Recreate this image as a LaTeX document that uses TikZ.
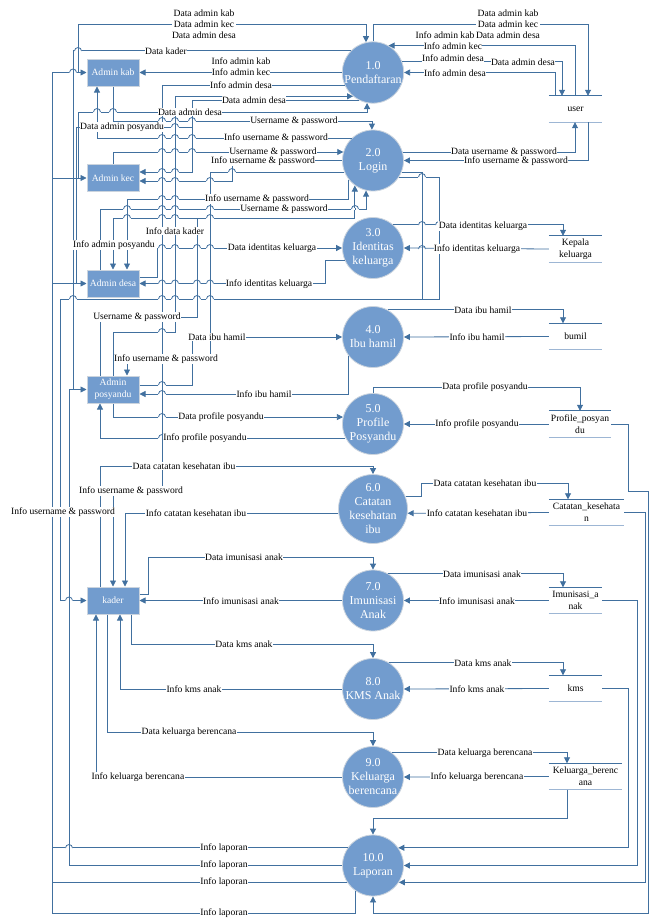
\documentclass[tikz,border=0pt]{standalone}
\usepackage{fontspec}
\setmainfont{Liberation Serif}
\usetikzlibrary{arrows.meta}
\definecolor{fillb}{HTML}{729CCE}
\definecolor{lineb}{HTML}{41709F}
\definecolor{lightb}{HTML}{9DB6D4}
\definecolor{edgeg}{HTML}{CBD4DE}
\newcommand\hopover[2]{%
  \fill[white] (#1-3.7,#2-1) rectangle (#1+3.7,#2+1);
  \draw[wire] (#1,#2-1.3) -- (#1,#2+1.3);
  \draw[wire] (#1-3.5,#2) arc[start angle=180,end angle=360,radius=3.5];}
\begin{document}
\begin{tikzpicture}[x=1pt,y=-1pt,
  proc/.style={circle, fill=fillb, draw=edgeg, line width=0.8pt, minimum size=61pt, inner sep=0pt, align=center, text=white, font=\fontsize{12}{14}\selectfont},
  ent/.style={rectangle, fill=fillb, draw=edgeg, line width=1pt, minimum width=52pt, minimum height=27pt, inner sep=0pt, align=center, text=white, font=\fontsize{9.6}{12}\selectfont},
  store/.style={minimum height=26pt, inner sep=0pt, align=center, font=\fontsize{9.6}{12}\selectfont},
  wire/.style={draw=lineb, line width=0.8pt},
  flow/.style={wire, -{Triangle[length=6pt,width=6pt]}},
  lbl/.style={fill=white, inner sep=0.4pt, font=\fontsize{9.6}{11}\selectfont, align=center},
  stt/.style={draw=lineb, line width=1pt},
  stb/.style={draw=lightb, line width=1.3pt},
]
\useasboundingbox (0,0) rectangle (649,918);
\fill[white] (0,0) rectangle (649,918);

% processes
\node[proc] (p1) at (373,72.5) {1.0\\Pendaftaran};
\node[proc] (p2) at (373,160.5) {2.0\\Login};
\node[proc] (p3) at (373,248) {3.0\\Identitas\\keluarga};
\node[proc] (p4) at (373,337) {4.0\\Ibu hamil};
\node[proc] (p5) at (373,424) {5.0\\Profile\\Posyandu};
\node[proc, minimum size=66pt] (p6) at (373,509) {6.0\\Catatan\\kesehatan\\ibu};
\node[proc] (p7) at (373,600.5) {7.0\\Imunisasi\\Anak};
\node[proc] (p8) at (373,689) {8.0\\KMS Anak};
\node[proc] (p9) at (373,777) {9.0\\Keluarga\\berencana};
\node[proc] (p10) at (373,865.5) {10.0\\Laporan};

% entities
\node[ent] (ak) at (113,72.5) {Admin kab};
\node[ent] (akc) at (113,178) {Admin kec};
\node[ent] (ad) at (113,283.5) {Admin desa};
\node[ent] (ap) at (113,389.5) {Admin\\posyandu};
\node[ent] (kd) at (113,600.5) {kader};

% stores
\node[store, minimum width=53pt] (s1) at (575.5,109) {user};
\node[store, minimum width=53pt] (s2) at (575.5,249) {Kepala\\keluarga};
\node[store, minimum width=53pt] (s3) at (575.5,336.5) {bumil};
\node[store, minimum width=62pt] (s4) at (580,424) {Profile\_posyan\\du};
\node[store, minimum width=75pt] (s5) at (586.5,512.5) {Catatan\_kesehata\\n};
\node[store, minimum width=53pt] (s6) at (575.5,600.5) {Imunisasi\_a\\nak};
\node[store, minimum width=53pt] (s7) at (575.5,688.5) {kms};
\node[store, minimum width=73pt] (s8) at (585.5,776.5) {Keluarga\_berenc\\ana};
\foreach \s in {s1,s2,s3,s4,s5,s6,s7,s8}{
  \draw[stt] (\s.north west) -- (\s.north east);
  \draw[stb] (\s.south west) -- (\s.south east);
}

% ---- top: admin kab / 1.0 / user
\draw[flow] (78,72.5) -- (78,24) -- (p1.103 |- 0,24) -- (p1.103);
\draw[flow] (p1.north) -- (p1.north |- 0,24) -- (588,24) -- (s1.north -| 588,0);
\draw[flow] (s1.north -| 575,0) -- (p1.60 -| 575,0) -- (p1.60);
\draw[flow] (p1.20) -- (p1.20 -| 562,0) -- (s1.north -| 562,0);
\draw[flow] (s1.north -| 555,0) -- (p1.east -| 555,0) -- (p1.east);
\draw[flow] (p2.16) -- (p2.16 -| 575,0) -- (s1.south -| 575,0);
\draw[flow] (s1.south -| 588,0) -- (p2.east -| 588,0) -- (p2.east);

% bus of Info laporan
\draw[wire] (p10.145) -- (p10.145 -| 52,0);
\draw[wire] (p10.213) -- (p10.213 -| 52,0);
\draw[wire] (p10.236) -- (p10.236 |- 0,913) -- (52,913) -- (52,72.5);
\draw[flow] (52,72.5) -- (ak.west);
\draw[flow] (52,178) -- (akc.west);
\draw[flow] (52,283.5) -- (ad.west);
\draw[flow] (p10.west) -- (p10.west -| 69,0) -- (69,389.5) -- (ap.west);

% left flows of 1.0
\draw[wire] (ap.west -| 73,0) -- (p1.135 -| 73,0) -- (p1.135);
\draw[flow] (p1.west) -- (ak.east);
\draw[flow] (p1.204) -- (p1.204 -| 162,0) -- (162,491) -- (113,491) -- (kd.north -| 113,0);
\draw[flow] (ap.north) -- (113,332) -- (175,332) -- (p1.230 -| 175,0) -- (p1.230);
\draw[flow] (p1.244) -- (p1.244 -| 192,0) -- (192,172) -- (akc.east |- 0,172);
\draw[flow] (akc.west -| 78,0) -- (78,112) -- (p1.259 |- 0,112) -- (p1.259);
\draw[wire] (ad.west -| 76,0) -- (76,127) -- (192,127);

% 2.0 left
\draw[flow] (ak.south) -- (113,121) -- (p2.92 |- 0,121) -- (p2.92);
\draw[flow] (p2.133) -- (p2.133 -| 97,0) -- (ak.south -| 97,0);
\draw[flow] (akc.north) -- (akc.north |- p2.164) -- (p2.164);
\draw[flow] (p2.west) -- (p2.west -| 232,0) -- (232,181) -- (akc.east |- 0,181);
\draw[flow] (p2.202) -- (p2.202 -| 210,0) -- (210,359) -- (127,359) -- (ap.north -| 127,0);
\draw[flow] (p2.218) -- (p2.218 |- 0,199) -- (127,199) -- (ad.north -| 127,0);
\draw[flow] (ad.north -| 100,0) -- (100,209) -- (p2.257 |- 0,209) -- (p2.257);
\draw[flow] (ap.north -| 100,0) -- (100,317) -- (197,317) -- (197,218) -- (p2.234 |- 0,218) -- (p2.234);
\draw[flow] (197,218) -- (113,218) -- (ad.north -| 113,0);
\draw[flow] (p2.327) -- (p2.327 -| 439,0) -- (439,299) -- (60,299) -- (60,600.5) -- (kd.west);
\draw[wire] (p2.338) -- (p2.338 -| 422,0) -- (422,299);

% 3.0, 4.0, 5.0 left
\draw[flow] (ad.east |- 0,277) -- (157,277) -- (157,248) -- (p3.west);
\draw[flow] (p3.203) -- (p3.203 -| 325,0) -- (325,283.5) -- (ad.east);
\draw[flow] (ap.east |- 0,385) -- (192,385) -- (192,337) -- (p4.west);
\draw[flow] (p4.218) -- (p4.218 |- 0,394) -- (ap.east |- 0,394);
\draw[flow] (ap.south) -- (ap.south |- p5.167) -- (p5.167);
\draw[flow] (p5.207) -- (p5.207 -| 100,0) -- (ap.south -| 100,0);

% kader flows
\draw[flow] (kd.north -| 100,0) -- (100,466) -- (p6.north |- 0,466) -- (p6.north);
\draw[flow] (p6.187) -- (p6.187 -| 125,0) -- (kd.north -| 125,0);
\draw[flow] (kd.east |- 0,594) -- (148,594) -- (148,557) -- (p7.north |- 0,557) -- (p7.north);
\draw[flow] (p7.west) -- (kd.east);
\draw[flow] (kd.south -| 131,0) -- (131,644) -- (p8.north |- 0,644) -- (p8.north);
\draw[flow] (p8.west) -- (p8.west -| 120,0) -- (kd.south -| 120,0);
\draw[flow] (kd.south -| 107,0) -- (107,732) -- (p9.north |- 0,732) -- (p9.north);
\draw[flow] (p9.west) -- (p9.west -| 96,0) -- (kd.south -| 96,0);

% right side stores
\draw[flow] (p3.49) -- (p3.49 -| 563,0) -- (s2.north -| 563,0);
\draw[flow] (s2.west) -- (p3.east);
\draw[flow] (p4.62) -- (p4.62 -| 563,0) -- (s3.north -| 563,0);
\draw[flow] (s3.west) -- (p4.east);
\draw[flow] (p5.north) -- (p5.north |- 0,387) -- (580,387) -- (s4.north);
\draw[flow] (s4.west) -- (p5.east);
\draw[flow] (p6.21) -- (p6.21 -| 421,0) -- (421,483) -- (568,483) -- (s5.north -| 568,0);
\draw[flow] (s5.west) -- (p6.353);
\draw[flow] (p7.60) -- (p7.60 -| 563,0) -- (s6.north -| 563,0);
\draw[flow] (s6.west) -- (p7.east);
\draw[flow] (p8.58) -- (p8.58 -| 563,0) -- (s7.north -| 563,0);
\draw[flow] (s7.west) -- (p8.east);
\draw[flow] (p9.52) -- (p9.52 -| 567,0) -- (s8.north -| 567,0);
\draw[flow] (s8.west) -- (p9.east);
\draw[flow] (s8.south -| 567,0) -- (567,818) -- (p10.north |- 0,818) -- (p10.north);
\draw[flow] (s7.east) -- (s7.east -| 628,0) -- (p10.35 -| 628,0) -- (p10.35);
\draw[flow] (s6.east) -- (s6.east -| 637,0) -- (p10.east -| 637,0) -- (p10.east);
\draw[flow] (s5.east) -- (s5.east -| 645,0) -- (p10.327 -| 645,0) -- (p10.327);
\draw[flow] (s4.east) -- (s4.east -| 628,0) -- (628,491) -- (648,491) -- (648,913) -- (p10.south |- 0,913) -- (p10.south);

% line hops
\foreach \hx/\hy in {78/51, 73/72.5,
  97/112, 113/112, 162/112, 175/112, 192/112,
  162/121, 175/121, 192/121, 175/127,
  162/138, 175/138, 192/138, 162/152, 175/152, 192/152,
  162/172, 175/172, 232/172, 422/177,
  162/181, 175/181, 210/181, 162/199, 175/199, 210/199,
  127/209, 162/209, 175/209, 210/209, 355/209,
  127/218, 162/218, 175/218, 210/218,
  422/225, 439/225, 422/249, 439/249,
  162/248, 175/248, 197/248, 210/248,
  162/283.5, 175/283.5, 197/283.5, 210/283.5,
  73/299, 162/299, 175/299, 197/299, 210/299,
  162/317, 175/317, 162/332, 162/385, 162/394, 162/417, 162/438, 162/466,
  69/600.5, 69/848}{\hopover{\hx}{\hy}}

% labels
\node[lbl] (t01) at (204,24) {Data admin kab\\Data admin kec\\Data admin desa};
\node[lbl] (t02) at (508,24) {Data admin kab\\Data admin kec\\Data admin desa};
\node[lbl] (t03) at (445,35) {Info admin kab};
\node[lbl] (t04) at (453,46) {Info admin kec};
\node[lbl] (t05) at (453,58) {Info admin desa};
\node[lbl] (t06) at (523,62) {Data admin desa};
\node[lbl] (t07) at (455,73) {Info admin desa};
\node[lbl] (t08) at (504,152) {Data username \& password};
\node[lbl] (t09) at (516,161) {Info username \& password};
\node[lbl] (t10) at (166,51) {Data kader};
\node[lbl] (t11) at (241,61) {Info admin kab};
\node[lbl] (t12) at (241,72.5) {Info admin kec};
\node[lbl] (t13) at (241,85) {Info admin desa};
\node[lbl] (t14) at (254,100) {Data admin desa};
\node[lbl] (t15) at (190,112) {Data admin desa};
\node[lbl] (t16) at (122,127) {Data admin posyandu};
\node[lbl] (t17) at (294,121) {Username \& password};
\node[lbl] (t18) at (276,138) {Info username \& password};
\node[lbl] (t19) at (273,152) {Username \& password};
\node[lbl] (t20) at (263,161) {Info username \& password};
\node[lbl] (t21) at (257,199) {Info username \& password};
\node[lbl] (t22) at (284,209) {Username \& password};
\node[lbl] (t23) at (175,231) {Info data kader};
\node[lbl] (t24) at (114,245) {Info admin posyandu};
\node[lbl] (t25) at (272,248) {Data identitas keluarga};
\node[lbl] (t26) at (269,284) {Info identitas keluarga};
\node[lbl] (t27) at (137,317) {Username \& password};
\node[lbl] (t28) at (217,337) {Data ibu hamil};
\node[lbl] (t29) at (166,359) {Info username \& password};
\node[lbl] (t30) at (264,394) {Info ibu hamil};
\node[lbl] (t31) at (221,417) {Data profile posyandu};
\node[lbl] (t32) at (205,438) {Info profile posyandu};
\node[lbl] (t33) at (184,466) {Data catatan kesehatan ibu};
\node[lbl] (t34) at (131,491) {Info username \& password};
\node[lbl] (t35) at (63,512) {Info username \& password};
\node[lbl] (t36) at (196,513) {Info catatan kesehatan ibu};
\node[lbl] (t37) at (244,557) {Data imunisasi anak};
\node[lbl] (t38) at (241,601) {Info imunisasi anak};
\node[lbl] (t39) at (244,644) {Data kms anak};
\node[lbl] (t40) at (194,689) {Info kms anak};
\node[lbl] (t41) at (189,732) {Data keluarga berencana};
\node[lbl] (t42) at (138,777) {Info keluarga berencana};
\node[lbl] (t43) at (224,848) {Info laporan};
\node[lbl] (t44) at (224,865) {Info laporan};
\node[lbl] (t45) at (224,882) {Info laporan};
\node[lbl] (t46) at (224,913) {Info laporan};
\node[lbl] (t47) at (483,226) {Data identitas keluarga};
\node[lbl] (t48) at (477,249) {Info identitas keluarga};
\node[lbl] (t49) at (483,310) {Data ibu hamil};
\node[lbl] (t50) at (477,337) {Info ibu hamil};
\node[lbl] (t51) at (485,387) {Data profile posyandu};
\node[lbl] (t52) at (477,424) {Info profile posyandu};
\node[lbl] (t53) at (485,483) {Data catatan kesehatan ibu};
\node[lbl] (t54) at (477,513) {Info catatan kesehatan ibu};
\node[lbl] (t55) at (482,574) {Data imunisasi anak};
\node[lbl] (t56) at (477,601) {Info imunisasi anak};
\node[lbl] (t57) at (483,663) {Data kms anak};
\node[lbl] (t58) at (477,689) {Info kms anak};
\node[lbl] (t59) at (485,753) {Data keluarga berencana};
\node[lbl] (t60) at (477,777) {Info keluarga berencana};
\end{tikzpicture}
\end{document}
